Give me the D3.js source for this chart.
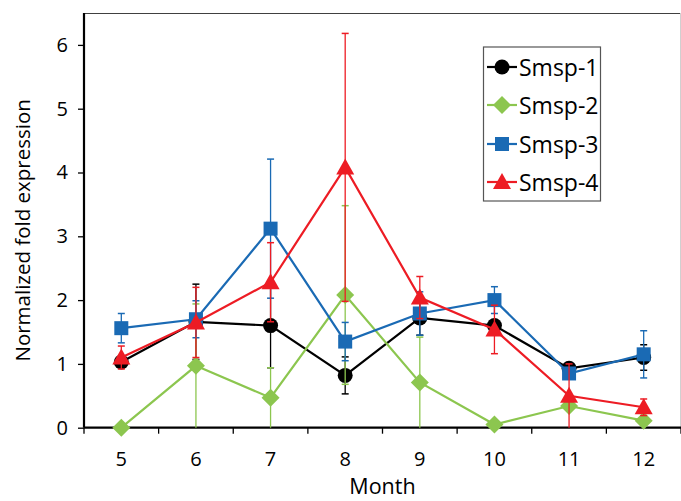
<!DOCTYPE html>
<html><head><meta charset="utf-8">
<script src="https://cdn.jsdelivr.net/npm/d3@7"></script>
<style>body{margin:0;background:#fff}svg{display:block;font-family:"Open Sans",sans-serif}</style>
</head><body>
<svg id="c" width="681" height="501"></svg>
<script>
const months = ["5","6","7","8","9","10","11","12"];
const yTicks = [0,1,2,3,4,5,6];
const seriesNames = ["Smsp-1","Smsp-2","Smsp-3","Smsp-4"];
const smsp1 = [1.03,1.66,1.60,0.82,1.72,1.60,0.93,1.10];
const smsp1Err = [0.05,0.59,0.66,0.29,0.27,0.06,0.07,0.20];
const smsp2 = [0.00,0.97,0.47,2.08,0.71,0.05,0.34,0.11];
const smsp2Err = [0.00,0.97,0.47,1.40,0.71,0.04,0.05,0.05];
const smsp3 = [1.56,1.70,3.12,1.35,1.79,2.00,0.85,1.15];
const smsp3Err = [0.23,0.29,1.09,0.30,0.34,0.21,0.06,0.37];
const smsp4 = [1.10,1.65,2.28,4.08,2.04,1.54,0.50,0.32];
const smsp4Err = [0.18,0.55,0.62,2.10,0.33,0.38,0.50,0.13];
const xTitle = "Month", yTitle = "Normalized fold expression";

const colors = ["#000000","#8cc64f","#1a6ab4","#ed1c24"];
const shapes = ["circle","diamond","square","triangle"];
const series = [
  {name:seriesNames[0], v:smsp1, e:smsp1Err},
  {name:seriesNames[1], v:smsp2, e:smsp2Err},
  {name:seriesNames[2], v:smsp3, e:smsp3Err},
  {name:seriesNames[3], v:smsp4, e:smsp4Err}
];

const svg = d3.select("#c");
const L=84, R=681, T=13, B=427.7;
const x = d3.scaleBand().domain(months).range([L,R]).padding(0);
const y = d3.scaleLinear().domain([0,6.5]).range([B,T]);
const cx = m => x(m) + x.bandwidth()/2;

// frame top / right
svg.append("line").attr("x1",L).attr("x2",R).attr("y1",T+0.5).attr("y2",T+0.5).attr("stroke","#404040").attr("stroke-width",1.2);
svg.append("line").attr("x1",R-0.5).attr("x2",R-0.5).attr("y1",T).attr("y2",B).attr("stroke","#d0d0d0").attr("stroke-width",1);

// axes
const yAxis = svg.append("g").attr("transform",`translate(${L},0)`)
  .call(d3.axisLeft(y).tickValues(yTicks).tickSize(6).tickPadding(10).tickFormat(d3.format("d")));
const xAxis = svg.append("g").attr("transform",`translate(0,${B})`)
  .call(d3.axisBottom(x).tickSize(0).tickPadding(24));
// x ticks at band boundaries
const bounds = months.map(m=>x(m)).concat([R]);
xAxis.selectAll(".bt").data(bounds).join("line").attr("class","bt")
  .attr("x1",d=>d).attr("x2",d=>d).attr("y1",0).attr("y2",6).attr("stroke","#000").attr("stroke-width",1.3);
[yAxis,xAxis].forEach(g=>{
  g.select(".domain").attr("stroke","#000").attr("stroke-width",2.2);
  g.selectAll(".tick line").attr("stroke","#000").attr("stroke-width",1.3);
  g.selectAll("text").attr("font-size",20).attr("fill","#000").attr("font-family","Open Sans");
});
xAxis.select(".domain").attr("d",`M${L},0H${R}`);
yAxis.select(".domain").attr("d",`M0,${T}V${B}`);

// titles
svg.append("text").attr("x",(L+R)/2).attr("y",494).attr("text-anchor","middle")
  .attr("font-size",21.5).text(xTitle);
svg.append("text").attr("transform",`translate(30,${(T+B)/2+10}) rotate(-90)`).attr("text-anchor","middle")
  .attr("font-size",20.5).text(yTitle);

function marker(g, shape, color, px, py, s){
  if(shape==="circle") g.append("circle").attr("cx",px).attr("cy",py).attr("r",7.5*s).attr("fill",color);
  else if(shape==="square") g.append("rect").attr("x",px-7*s).attr("y",py-7*s).attr("width",14*s).attr("height",14*s).attr("fill",color);
  else if(shape==="diamond") g.append("path").attr("d",`M${px},${py-9*s}L${px+9*s},${py}L${px},${py+9*s}L${px-9*s},${py}Z`).attr("fill",color);
  else g.append("path").attr("d",`M${px},${py-9*s}L${px+9*s},${py+7*s}L${px-9*s},${py+7*s}Z`).attr("fill",color);
}

const line = d3.line().x((d,i)=>cx(months[i])).y(d=>y(d));
series.forEach((s,k)=>{
  const g = svg.append("g");
  // error bars
  s.v.forEach((v,i)=>{
    const e = s.e[i]; if(!e) return;
    const lo = Math.max(0,v-e), hi = v+e, px = cx(months[i]);
    g.append("line").attr("x1",px).attr("x2",px).attr("y1",y(lo)).attr("y2",y(hi)).attr("stroke",colors[k]).attr("stroke-width",1.3);
    g.append("line").attr("x1",px-3.5).attr("x2",px+3.5).attr("y1",y(hi)).attr("y2",y(hi)).attr("stroke",colors[k]).attr("stroke-width",1.5);
    if(v-e>0) g.append("line").attr("x1",px-3.5).attr("x2",px+3.5).attr("y1",y(lo)).attr("y2",y(lo)).attr("stroke",colors[k]).attr("stroke-width",1.5);
  });
  g.append("path").datum(s.v).attr("d",line).attr("fill","none").attr("stroke",colors[k]).attr("stroke-width",2.2);
  s.v.forEach((v,i)=>marker(g,shapes[k],colors[k],cx(months[i]),y(v),1));
});

// legend
const lg = svg.append("g");
lg.append("rect").attr("x",483.5).attr("y",47).attr("width",117).attr("height",154).attr("fill","#fff").attr("stroke","#555").attr("stroke-width",1.2);
const ly = [67,105,144,182];
series.forEach((s,k)=>{
  lg.append("line").attr("x1",487).attr("x2",517).attr("y1",ly[k]).attr("y2",ly[k]).attr("stroke",colors[k]).attr("stroke-width",2.2);
  marker(lg,shapes[k],colors[k],502,ly[k],1);
  lg.append("text").attr("x",519).attr("y",ly[k]+8.5).attr("font-size",23).text(s.name);
});
</script>
</body></html>
